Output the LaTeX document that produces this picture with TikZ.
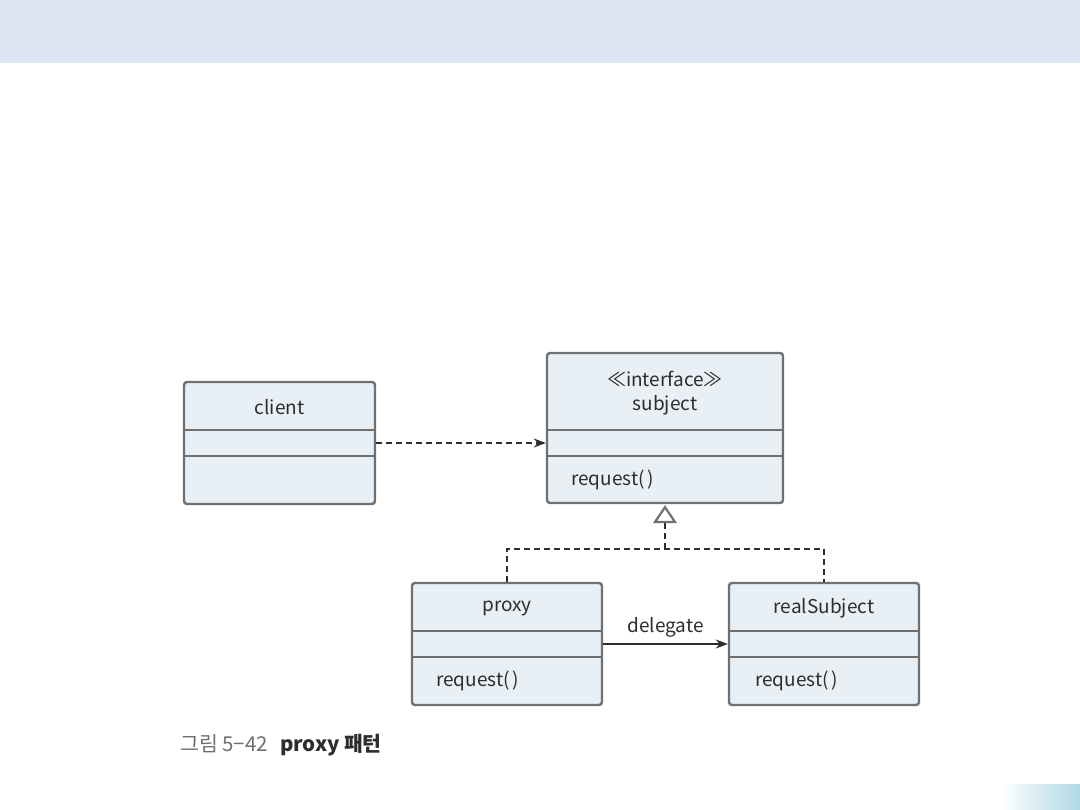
\documentclass[tikz,border=0pt]{standalone}
\usepackage{fontspec}
\setmainfont{Noto Sans CJK KR}
\usetikzlibrary{arrows.meta}
\definecolor{band}{RGB}{220,230,242}
\definecolor{boxfill}{RGB}{232,239,245}
\definecolor{boxline}{RGB}{112,112,112}
\definecolor{txt}{RGB}{45,45,45}
\definecolor{capgray}{RGB}{110,110,110}
\definecolor{grad}{RGB}{176,216,228}
\tikzset{
  classbox/.style={draw=boxline, fill=boxfill, line width=2.4pt, rounded corners=3pt, inner sep=0pt},
  divider/.style={draw=boxline, line width=2.4pt},
  lbl/.style={text=txt, font=\fontsize{19}{21}\selectfont, inner sep=0pt},
  dep/.style={draw=txt, line width=1.2pt, dash pattern=on 6pt off 4pt, -{Stealth[length=12pt,width=9pt]}},
  assoc/.style={draw=txt, line width=1.2pt, -{Stealth[length=12pt,width=9pt]}},
  real/.style={draw=txt, line width=1.2pt, dash pattern=on 6pt off 4pt},
}
\begin{document}
\begin{tikzpicture}[x=1pt,y=-1pt]
\useasboundingbox (0,0) rectangle (1080,810);
\fill[band] (0,0) rectangle (1080,63);
\shade[left color=white, right color=grad] (1000,784) rectangle (1080,810);

% client
\node[classbox, minimum width=191pt, minimum height=122pt] (client) at (279.5,443) {};
\draw[divider] (184,430) -- (375,430);
\draw[divider] (184,456) -- (375,456);
\node[lbl] (clientname) at (279.5,407) {client};

% subject
\node[classbox, minimum width=236pt, minimum height=150pt] (subject) at (665,428) {};
\draw[divider] (547,430) -- (783,430);
\draw[divider] (547,456) -- (783,456);
\node[lbl] (stereo) at (665,379) {≪interface≫};
\node[lbl] (subjname) at (665,405) {subject};
\node[lbl, anchor=west] (subjop) at (571,480) {request(\,)};

% proxy
\node[classbox, minimum width=190pt, minimum height=122pt] (proxy) at (507,644) {};
\draw[divider] (412,631) -- (602,631);
\draw[divider] (412,657) -- (602,657);
\node[lbl] (proxyname) at (507,608) {proxy};
\node[lbl, anchor=west] (proxyop) at (436,681) {request(\,)};

% realSubject
\node[classbox, minimum width=190pt, minimum height=122pt] (real) at (824,644) {};
\draw[divider] (729,631) -- (919,631);
\draw[divider] (729,657) -- (919,657);
\node[lbl] (realname) at (824,608) {realSubject};
\node[lbl, anchor=west] (realop) at (755,681) {request(\,)};

% connectors
\draw[dep] (client.east) -- (client.east -| subject.west);
\draw[assoc] (proxy.east) -- node[lbl, above=6pt] (dlg) {delegate} (real.west);
\coordinate (j) at (665,549);
\draw[real] (proxy.north) |- (j) -| (real.north);
\draw[real] (j) -- (665,522);
\draw[draw=boxline, fill=white, line width=2.2pt, line join=miter] (subject.south) ++(0,3) coordinate (apex) -- (675,522) -- (655,522) -- cycle;

% caption
\node[anchor=west, inner sep=0pt, font=\fontsize{20.5}{22}\selectfont] (cap) at (180,745)
  {\textcolor{capgray}{그림 5−42}\hspace{12pt}\textcolor{txt}{\bfseries proxy 패턴}};
\end{tikzpicture}
\end{document}
